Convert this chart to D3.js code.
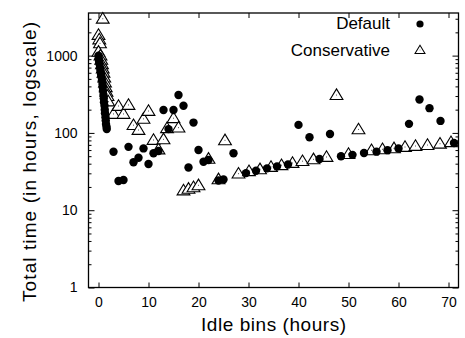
<!DOCTYPE html>
<html>
<head>
<meta charset="utf-8">
<script src="https://cdn.jsdelivr.net/npm/d3@7/dist/d3.min.js"></script>
<style>
body { margin: 0; background: #fff; }
text { font-family: "Liberation Sans", Arial, Helvetica, sans-serif; fill: #000; }
</style>
</head>
<body>
<div id="chart"></div>
<script>
// idle bin (hours) and total time (hours)
const defaultX = [0, 0.05, 0.1, 0.2, 0.3, 0.4, 0.5, 0.6, 0.7, 0.8, 0.85, 0.9, 1.0, 1.05, 1.1, 1.2, 1.25, 1.3, 1.4, 1.45, 1.5, 1.6, 1.65,
	3, 4, 5, 6, 7, 8, 9, 10, 11, 12, 13, 14, 15, 16, 17, 18, 19, 20, 21, 22, 24, 25, 27,
	29.5, 31.5, 33.7, 35.7, 37.9, 40, 42.2, 44.2, 46.3, 48.5, 50.8, 53.1, 55.6, 57.8, 60, 62.1, 64.2, 66.2, 68.4, 71.1];
const defaultY = [1000, 920, 850, 780, 700, 640, 580, 530, 480, 430, 390, 350, 310, 280, 250, 225, 200, 180, 160, 145, 130, 120, 112,
	57, 23.9, 24.6, 66, 41.7, 47.8, 63, 39.6, 54.5, 58.3, 198, 112, 198, 309, 225, 35.7, 136, 60, 42.4, 44.6, 24.2, 25, 54.5,
	30.2, 32.4, 34.8, 36.9, 39, 127, 88, 46, 97, 50, 52, 55, 57.2, 59.8, 62.9, 131, 271, 209, 143, 74];

const conservX = [0, 0.15, 0.3, 0, 0.85, 0.4, 0.55, 0.7, 0.85, 1.0, 1.15, 1.3, 1.45, 1.6, 1.8,
	1.95, 3, 4, 5, 6, 7, 8, 9, 10, 11, 12, 13, 13.7, 15, 16, 17, 18, 19, 20, 22, 24, 25.3,
	28, 30.1, 32.3, 34.5, 36.6, 38.8, 40.8, 43, 45.6, 47.6, 50, 52, 54.6, 56.8, 59.1, 61.3, 63.4, 65.8, 68.3, 70.5];
const conservY = [1850, 1620, 1440, 1120, 3000, 1000, 880, 770, 680, 600, 520, 450, 390, 340, 300,
	255, 176, 223, 176, 230, 126, 109, 152, 192, 81, 61, 82.6, 115, 155, 117, 18, 18.9, 19.8, 21, 46.2, 25.1, 80.2,
	29.7, 31.9, 33.8, 36.2, 38.2, 40.8, 43.1, 45.5, 48.8, 309, 53.3, 111, 59.6, 61.4, 63.2, 65.7, 67.7, 69.7, 72.5, 75.8];

const xTicks = [0, 10, 20, 30, 40, 50, 60, 70];
const yTicks = [1, 10, 100, 1000];
const seriesNames = ['Default', 'Conservative'];

let W = 465, H = 338;
let marg = { left: 88.5, right: 6.5, top: 13, bot: 50.5 };
let triPath = 'M0,-6.2L6.4,4.4L-6.4,4.4Z';

const svg = d3.select('#chart').append('svg').attr('width', W).attr('height', H);

let xScale = d3.scaleLinear().domain([-2, 72]).range([marg.left, W - marg.right]);
let yScale = d3.scaleLog().domain([1, 3560]).range([H - marg.bot, marg.top]);

// minor log ticks 2..9 in each decade
let minorY = [];
yTicks.forEach((t) => {
	for (let k = 2; k <= 9; k++) if (t * k < 3560) minorY.push(t * k);
});

let axes = svg.append('g').attr('class', 'axes');

const xBottom = d3.axisBottom(xScale).tickValues(xTicks).tickSize(-5).tickPadding(10);
const xTop = d3.axisTop(xScale).tickValues(xTicks).tickSize(-5).tickFormat('');
const yLeft = d3.axisLeft(yScale).tickValues(yTicks).tickSize(-6).tickPadding(11).tickFormat(d3.format('d'));
const yRight = d3.axisRight(yScale).tickValues(yTicks).tickSize(-6).tickFormat('');
const yLeftMinor = d3.axisLeft(yScale).tickValues(minorY).tickSize(-3).tickFormat('');
const yRightMinor = d3.axisRight(yScale).tickValues(minorY).tickSize(-3).tickFormat('');

axes.append('g').attr('transform', 'translate(0,' + (H - marg.bot) + ')').call(xBottom);
axes.append('g').attr('transform', 'translate(0,' + marg.top + ')').call(xTop);
axes.append('g').attr('transform', 'translate(' + marg.left + ',0)').call(yLeft);
axes.append('g').attr('transform', 'translate(' + (W - marg.right) + ',0)').call(yRight);
axes.append('g').attr('transform', 'translate(' + marg.left + ',0)').call(yLeftMinor);
axes.append('g').attr('transform', 'translate(' + (W - marg.right) + ',0)').call(yRightMinor);

axes.selectAll('.domain').remove();
axes.selectAll('.tick line').attr('stroke', '#000').attr('stroke-width', 1);
axes.selectAll('.tick text').style('font-size', '14px').attr('fill', '#000');

// frame
svg.append('rect')
	.attr('x', marg.left).attr('y', marg.top)
	.attr('width', W - marg.left - marg.right).attr('height', H - marg.top - marg.bot)
	.attr('fill', 'none').attr('stroke', '#000').attr('stroke-width', 1.3);

let plot = svg.append('g');

let conservPts = conservX.map((x, i) => ({ x: x, y: conservY[i] }));
let defaultPts = defaultX.map((x, i) => ({ x: x, y: defaultY[i] }));

let tri = plot.selectAll('.tri').data(conservPts).enter().append('g')
	.attr('class', 'tri')
	.attr('transform', (d) => 'translate(' + xScale(d.x) + ',' + yScale(d.y) + ')');
tri.append('path').attr('d', triPath).attr('fill', '#fff').attr('stroke', '#000').attr('stroke-width', 1.1);
tri.append('rect').attr('x', -0.5).attr('y', -0.5).attr('width', 1).attr('height', 1).attr('fill', '#555');

plot.selectAll('.dot').data(defaultPts).enter().append('circle')
	.attr('class', 'dot')
	.attr('cx', (d) => xScale(d.x))
	.attr('cy', (d) => yScale(d.y))
	.attr('r', 4.2)
	.attr('fill', '#000');

// legend, symbols a bit smaller than in the plot
let leg = svg.append('g').attr('class', 'legend');
leg.append('text').attr('x', 390).attr('y', 29).attr('text-anchor', 'end').style('font-size', '17px').text(seriesNames[0]);
leg.append('circle').attr('cx', 420).attr('cy', 24).attr('r', 3.6).attr('fill', '#000');
leg.append('text').attr('x', 390).attr('y', 56).attr('text-anchor', 'end').style('font-size', '17px').text(seriesNames[1]);
let ltri = leg.append('g').attr('transform', 'translate(420,50) scale(0.78)');
ltri.append('path').attr('d', triPath).attr('fill', '#fff').attr('stroke', '#000').attr('stroke-width', 1.3);
ltri.append('rect').attr('x', -0.5).attr('y', -0.5).attr('width', 1).attr('height', 1).attr('fill', '#555');

// axis titles
svg.append('text')
	.attr('x', xScale(35)).attr('y', 331)
	.attr('text-anchor', 'middle')
	.style('font-size', '19px')
	.attr('textLength', 145).attr('lengthAdjust', 'spacing')
	.text('Idle bins (hours)');

svg.append('text')
	.attr('transform', 'translate(36,' + 162 + ') rotate(-90)')
	.attr('text-anchor', 'middle')
	.style('font-size', '19px')
	.attr('textLength', 280).attr('lengthAdjust', 'spacing')
	.text('Total time (in hours, logscale)');
</script>
</body>
</html>
